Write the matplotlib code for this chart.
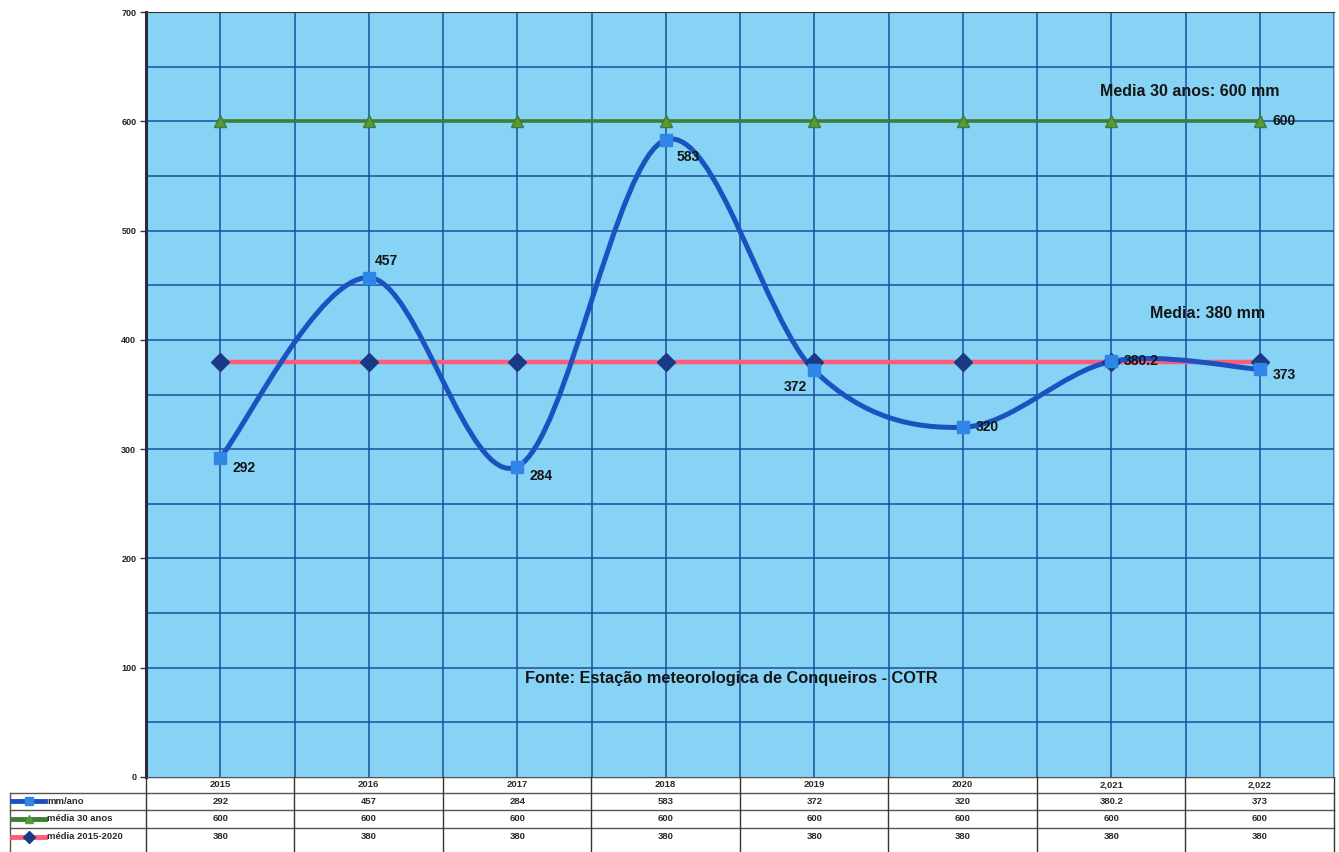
import matplotlib
matplotlib.use("Agg")
import matplotlib.pyplot as plt
import numpy as np
from matplotlib.path import Path
from matplotlib.patches import PathPatch
from matplotlib.lines import Line2D

plt.rcParams['font.family'] = ['Liberation Sans', 'DejaVu Sans']

# Data
anos = ['2015', '2016', '2017', '2018', '2019', '2020', '2,021', '2,022']
mm_ano = [292, 457, 284, 583, 372, 320, 380.2, 373]
media_30 = [600, 600, 600, 600, 600, 600, 600, 600]
media_periodo = [380, 380, 380, 380, 380, 380, 380, 380]
mm_labels = ['292', '457', '284', '583', '372', '320', '380.2', '373']
tab_mm = ['292', '457', '284', '583', '372', '320', '380.2', '373']
tab_30 = ['600'] * 8
tab_med = ['380'] * 8
row_names = ['mm/ano', 'média 30 anos', 'média 2015-2020']

BG = '#86d3f5'
GRID = '#1d4f9e'
BLUE_LINE = '#1a52bf'
BLUE_MK = '#2f86e6'
GREEN = '#3c7f35'
GREEN_MK = '#5a9a3c'
RED = '#ff5a78'
NAVY = '#1b3a85'
TXT = '#151515'

W, H = 1339, 852
fig = plt.figure(figsize=(W / 100, H / 100), dpi=100)

# plot area in pixel terms
left, right, top, bottom = 146, 1334, 12, 777
ax = fig.add_axes([left / W, (H - bottom) / H, (right - left) / W, (bottom - top) / H])
ax.set_facecolor(BG)

x = np.arange(len(anos))
ax.set_xlim(-0.5, len(anos) - 0.5)
ax.set_ylim(0, 700)

# grid: vertical every half category, horizontal every 50
for gx in np.arange(0, len(anos) - 0.49, 0.5):
    ax.axvline(gx, color=GRID, lw=1.1, zorder=1)
for gy in range(50, 700, 50):
    ax.axhline(gy, color=GRID, lw=1.1, zorder=1)

ax.set_yticks(range(0, 701, 100))
ax.set_yticklabels([str(v) for v in range(0, 701, 100)], fontsize=6.5, fontweight='bold', color='#222222')
ax.set_xticks([])
ax.tick_params(axis='y', length=4, width=1, color='#333333', pad=3)
ax.spines['left'].set_linewidth(2.2)
ax.spines['left'].set_color('#2a2a3a')
ax.spines['top'].set_color('#333333')
ax.spines['top'].set_linewidth(0.8)
ax.spines['right'].set_color('#9cc8e0')
ax.spines['bottom'].set_color('#444444')

# smoothed curve for mm/ano (Catmull-Rom as cubic Bezier)
pts = np.column_stack([x, mm_ano]).astype(float)
ext = np.vstack([pts[0], pts, pts[-1]])
verts = [tuple(pts[0])]
codes = [Path.MOVETO]
for i in range(len(pts) - 1):
    p0, p1, p2, p3 = ext[i], ext[i + 1], ext[i + 2], ext[i + 3]
    c1 = p1 + (p2 - p0) / 6.0
    c2 = p2 - (p3 - p1) / 6.0
    verts += [tuple(c1), tuple(c2), tuple(p2)]
    codes += [Path.CURVE4] * 3
ax.add_patch(PathPatch(Path(verts, codes), fill=False, edgecolor=BLUE_LINE, lw=3.6, zorder=4, capstyle='round'))

# other series
ax.plot(x, media_30, color=GREEN, lw=2.6, marker='^', markersize=8, markerfacecolor=GREEN_MK,
        markeredgecolor=GREEN, zorder=3)
ax.plot(x, media_periodo, color=RED, lw=3.2, zorder=3)
ax.plot(x, media_periodo, ls='none', marker='D', markersize=9, color=NAVY, zorder=5)
ax.plot(x, mm_ano, ls='none', marker='s', markersize=9, color=BLUE_MK, zorder=6)

# point labels
offsets = [(9, -7), (4, 12), (9, -7), (8, -12), (-22, -12), (9, 0), (9, 0), (9, -4)]
for xi, yi, lab, off in zip(x, mm_ano, mm_labels, offsets):
    ax.annotate(lab, (xi, yi), textcoords='offset points', xytext=off, fontsize=10,
                fontweight='bold', color=TXT, va='center', ha='left', zorder=7)
ax.annotate(str(media_30[-1]), (x[-1], media_30[-1]), textcoords='offset points', xytext=(9, 0),
            fontsize=10, fontweight='bold', color=TXT, va='center', ha='left', zorder=7)

ax.text(6.53, 627, 'Media 30 anos: 600 mm', fontsize=11.5, fontweight='bold', color=TXT,
        ha='center', va='center', zorder=7)
ax.text(6.65, 424, 'Media: 380 mm', fontsize=11.5, fontweight='bold', color=TXT,
        ha='center', va='center', zorder=7)
ax.text(3.44, 90, 'Fonte: Estação meteorologica de Conqueiros - COTR', fontsize=11.8,
        fontweight='bold', color=TXT, ha='center', va='center', zorder=7)

# data table underneath
per_unit = (right - left) / len(anos)
tx0 = -0.5 - left / per_unit
tx1 = len(anos) - 0.5 + (W - right) / per_unit
tab = fig.add_axes([0, 0, 1, (H - bottom) / H])
tab.set_xlim(tx0, tx1)
tab.set_ylim(H, bottom)
tab.axis('off')

rows_y = [777, 793, 810, 828, 852]
lab_left = tx0 + 10 / per_unit
tcol = '#2a2a2a'
for i, yy in enumerate(rows_y[:-1]):
    x_start = -0.5 if i == 0 else lab_left
    tab.plot([x_start, len(anos) - 0.5], [yy, yy], color='#555555', lw=1.0)
for cx in np.arange(-0.5, len(anos), 1.0):
    tab.plot([cx, cx], [rows_y[0], H], color='#333333', lw=1.0)
tab.plot([lab_left, lab_left], [rows_y[1], H], color='#555555', lw=1.0)

for i, lab in enumerate(anos):
    tab.text(i, (rows_y[0] + rows_y[1]) / 2, lab, fontsize=6.8, fontweight='bold',
             ha='center', va='center', color=tcol)
for r, vals in enumerate([tab_mm, tab_30, tab_med]):
    yc = (rows_y[r + 1] + rows_y[r + 2]) / 2 if r < 2 else rows_y[3] + 9
    for i, v in enumerate(vals):
        tab.text(i, yc, v, fontsize=6.8, fontweight='bold', ha='center', va='center', color=tcol)
    tab.text(tx0 + 47 / per_unit, yc, row_names[r], fontsize=6.8, fontweight='bold',
             ha='left', va='center', color=tcol)

# legend keys in the table
kx = [tx0 + 12 / per_unit, tx0 + 45 / per_unit]
kc = (kx[0] + kx[1]) / 2
ky = [(rows_y[1] + rows_y[2]) / 2, (rows_y[2] + rows_y[3]) / 2, rows_y[3] + 9]
tab.add_line(Line2D(kx, [ky[0]] * 2, color=BLUE_LINE, lw=3.5))
tab.plot([kc], [ky[0]], marker='s', markersize=6, color=BLUE_MK)
tab.add_line(Line2D(kx, [ky[1]] * 2, color=GREEN, lw=3.5))
tab.plot([kc], [ky[1]], marker='^', markersize=6, color=GREEN_MK)
tab.add_line(Line2D(kx, [ky[2]] * 2, color=RED, lw=3.5))
tab.plot([kc], [ky[2]], marker='D', markersize=6, color=NAVY)

fig.savefig('out.png', dpi=100, facecolor='white')
